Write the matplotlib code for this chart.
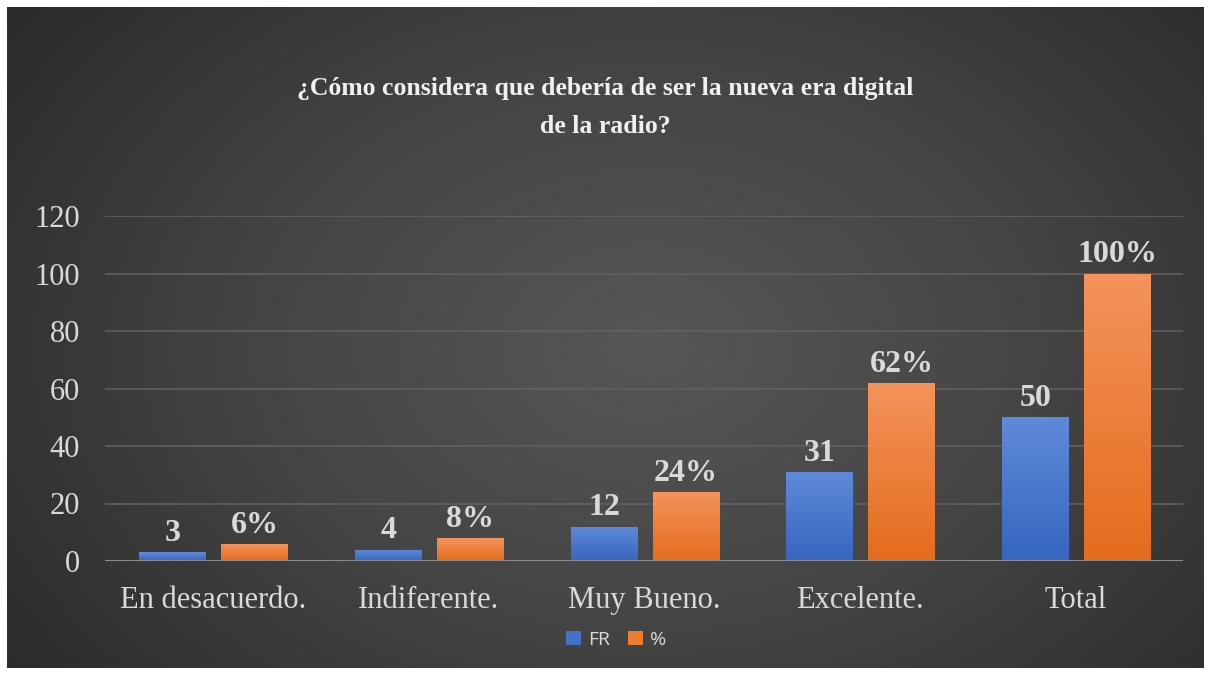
import numpy as np
import matplotlib.pyplot as plt
from matplotlib.colors import LinearSegmentedColormap

categorias = ["En desacuerdo.", "Indiferente.", "Muy Bueno.", "Excelente.", "Total"]
fr = [3, 4, 12, 31, 50]
pct = [6, 8, 24, 62, 100]
pct_labels = ["6%", "8%", "24%", "62%", "100%"]
titulo = "¿Cómo considera que debería de ser la nueva era digital\nde la radio?"

fig = plt.figure(figsize=(12.11, 6.75), dpi=100, facecolor="white")

# fondo degradado oscuro
bg = fig.add_axes([7 / 1211, 7 / 675, 1197 / 1211, 661 / 675])
yy, xx = np.mgrid[0:661, 0:1197]
r = np.sqrt(((xx - 640) / 1197) ** 2 + ((yy - 340) / 661) ** 2 * 0.6)
r = r / r.max()
bg_cmap = LinearSegmentedColormap.from_list("bg", ["#575757", "#444444", "#2a2a2a"])
bg.imshow(r, cmap=bg_cmap, aspect="auto", extent=[0, 1, 0, 1])
bg.set_axis_off()

ax = fig.add_axes([105 / 1211, 114 / 675, 1078 / 1211, 345 / 675])
ax.patch.set_alpha(0)

x = np.arange(len(categorias))
w = 0.31
b1 = ax.bar(x - 0.185, fr, w, color="#4472C4", zorder=3)
b2 = ax.bar(x + 0.195, pct, w, color="#ED7D31", zorder=3)

blue = LinearSegmentedColormap.from_list("b", ["#3766c0", "#5f8ad8"])
orange = LinearSegmentedColormap.from_list("o", ["#e46c1c", "#f4935b"])
grad = np.linspace(0, 1, 100).reshape(-1, 1)
for bars, cm in ((b1, blue), (b2, orange)):
    for b in bars:
        x0, y0 = b.get_x(), b.get_y()
        im = ax.imshow(grad, cmap=cm, origin="lower", aspect="auto",
                       extent=[x0, x0 + b.get_width(), y0, y0 + b.get_height()], zorder=4)
        im.set_clip_path(b)

for b, v in zip(b1, fr):
    ax.annotate(str(v), (b.get_x() + b.get_width() / 2, b.get_height()), xytext=(0, 3),
                textcoords="offset points", ha="center", va="bottom", fontsize=23,
                fontweight="bold", family="Liberation Serif", color="#d9d9d9", zorder=5)
for b, t in zip(b2, pct_labels):
    ax.annotate(t, (b.get_x() + b.get_width() / 2, b.get_height()), xytext=(0, 3),
                textcoords="offset points", ha="center", va="bottom", fontsize=23,
                fontweight="bold", family="Liberation Serif", color="#d9d9d9", zorder=5)

ax.set_xlim(-0.5, 4.5)
ax.set_ylim(0, 120)
ax.set_yticks(range(0, 121, 20))
ax.set_xticks(x)
ax.set_xticklabels(categorias)
ax.grid(axis="y", color="#606060", linewidth=1.2, zorder=0)
for s in ax.spines.values():
    s.set_visible(False)
ax.axhline(0, color="#8c8c8c", linewidth=1.5, zorder=6)
ax.tick_params(length=0, labelsize=22, labelcolor="#d9d9d9")
ax.tick_params(axis="y", pad=18)
ax.tick_params(axis="x", pad=18)
for lb in ax.get_xticklabels() + ax.get_yticklabels():
    lb.set_family("Liberation Serif")

fig.text(0.5, 0.841, titulo, ha="center", va="center", fontsize=18.5, fontweight="bold",
         family="Liberation Serif", color="#f0f0f0", linespacing=1.85)

leg = fig.legend([b1, b2], ["FR", "%"], loc="center", bbox_to_anchor=(0.509, 0.052),
                 ncol=2, frameon=False, handlelength=0.75, handleheight=0.75,
                 handletextpad=0.4, columnspacing=0.9, prop={"family": "Open Sans", "size": 14})
for t in leg.get_texts():
    t.set_color("#d9d9d9")

fig.savefig("out.png", dpi=100, facecolor="white")
